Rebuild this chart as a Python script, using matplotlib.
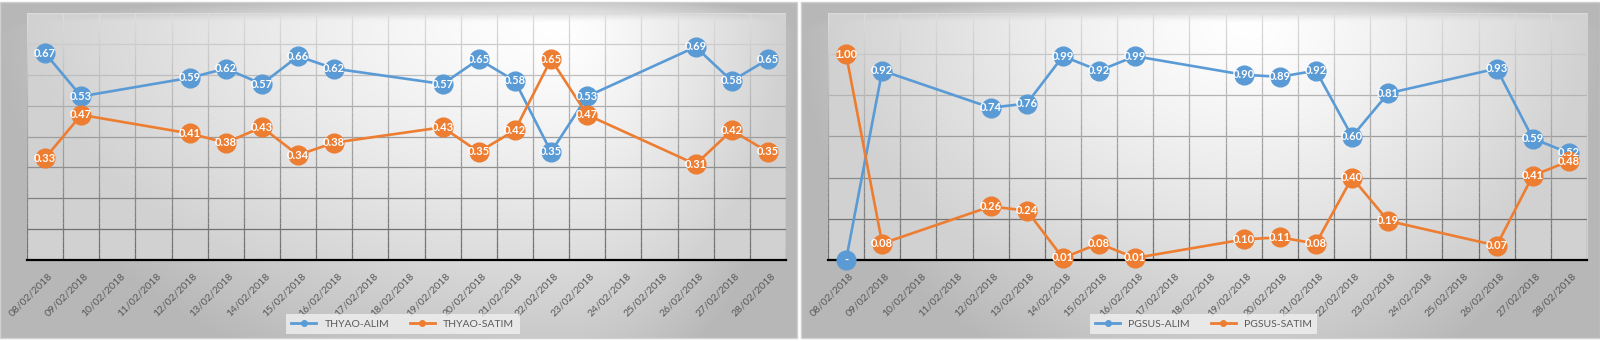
import numpy as np
import matplotlib.pyplot as plt
from matplotlib.collections import LineCollection
from matplotlib.lines import Line2D

plt.rcParams['font.family'] = ['Lato', 'DejaVu Sans']

# günler (hafta sonları boş)
dates = ['08/02/2018', '09/02/2018', '10/02/2018', '11/02/2018', '12/02/2018',
         '13/02/2018', '14/02/2018', '15/02/2018', '16/02/2018', '17/02/2018',
         '18/02/2018', '19/02/2018', '20/02/2018', '21/02/2018', '22/02/2018',
         '23/02/2018', '24/02/2018', '25/02/2018', '26/02/2018', '27/02/2018',
         '28/02/2018']
nan = np.nan

thyao_alim = [0.67, 0.53, nan, nan, 0.59, 0.62, 0.57, 0.66, 0.62, nan, nan,
              0.57, 0.65, 0.58, 0.35, 0.53, nan, nan, 0.69, 0.58, 0.65]
thyao_satim = [0.33, 0.47, nan, nan, 0.41, 0.38, 0.43, 0.34, 0.38, nan, nan,
               0.43, 0.35, 0.42, 0.65, 0.47, nan, nan, 0.31, 0.42, 0.35]
pgsus_alim = [0.00, 0.92, nan, nan, 0.74, 0.76, 0.99, 0.92, 0.99, nan, nan,
              0.90, 0.89, 0.92, 0.60, 0.81, nan, nan, 0.93, 0.59, 0.52]
pgsus_satim = [1.00, 0.08, nan, nan, 0.26, 0.24, 0.01, 0.08, 0.01, nan, nan,
               0.10, 0.11, 0.08, 0.40, 0.19, nan, nan, 0.07, 0.41, 0.48]

BLUE = '#5B9BD5'
ORANGE = '#ED7D31'
W, H = 1600, 341


def path_gradient(h, w, cx, cy, lo, power=1.3):
    # ortadan kenarlara doğru açıktan koyuya geçiş
    X, Y = np.meshgrid(np.arange(w) + 0.5, np.arange(h) + 0.5)
    tx = np.where(X < cx, (cx - X) / cx, (X - cx) / (w - cx))
    ty = np.where(Y < cy, (cy - Y) / max(cy, 1), (Y - cy) / (h - cy))
    t = np.clip(np.hypot(tx, ty * 0.8), 0, 1)
    g = 1 - (1 - lo) * t ** power
    return np.dstack([g, g, g])


fig = plt.figure(figsize=(W / 100, H / 100), dpi=100)
fig.patch.set_facecolor('white')

panels = [
    # (panel x0, x1, plot x0, x1, light centre x, series, ymax, step)
    (0, 797, 27, 786, 560, ('THYAO-ALIM', thyao_alim), ('THYAO-SATIM', thyao_satim), 0.8, 0.1),
    (801, 1600, 828, 1587, 1250, ('PGSUS-ALIM', pgsus_alim), ('PGSUS-SATIM', pgsus_satim), 1.2, 0.2),
]

x = np.arange(len(dates))

for px0, px1, ax0, ax1, lx, s1, s2, ymax, step in panels:
    # panel arka planı
    pw = px1 - px0
    bg = fig.add_axes([px0 / W, 3 / H, pw / W, 336 / H])
    bg.imshow(path_gradient(336, pw, lx - px0, 30, 0.72), aspect='auto', interpolation='bilinear')
    bg.set_axis_off()
    fig.add_artist(plt.Rectangle((px0 / W, 3 / H), pw / W, 336 / H, transform=fig.transFigure,
                                 fill=False, edgecolor='#d0d0d0', lw=1.0))

    ax = fig.add_axes([ax0 / W, (H - 260) / H, (ax1 - ax0) / W, 247 / H])
    aw = ax1 - ax0
    ax.imshow(path_gradient(247, aw, lx - ax0, 10, 0.82), aspect='auto',
              extent=(-0.5, len(dates) - 0.5, 0, ymax), zorder=0, interpolation='bilinear')
    ax.set_facecolor('none')

    # ızgara: aşağıda koyu, yukarıda açık
    for yv in np.arange(step, ymax + step / 2, step):
        f = yv / ymax
        g = 0.38 + 0.48 * f
        ax.axhline(yv, color=(g, g, g), lw=0.9, zorder=1)
    segs, cols = [], []
    ys = np.linspace(0, ymax, 41)
    for xv in np.arange(-0.5, len(dates), 1.0):
        for y0, y1 in zip(ys[:-1], ys[1:]):
            segs.append([(xv, y0), (xv, y1)])
            g = 0.42 + 0.45 * ((y0 + y1) / 2 / ymax)
            cols.append((g, g, g))
    ax.add_collection(LineCollection(segs, colors=cols, linewidths=0.9, zorder=1))

    for name, vals in (s1, s2):
        v = np.array(vals, dtype=float)
        m = ~np.isnan(v)
        color = BLUE if 'ALIM' in name else ORANGE
        ax.plot(x[m], v[m], color=color, lw=1.9, marker='o', ms=13.5,
                mec=color, zorder=3, clip_on=False)
    for name, vals in (s1, s2):
        for xi, vi in zip(x, vals):
            if np.isnan(vi):
                continue
            label = '-' if vi == 0 else f'{vi:.2f}'
            ax.text(xi, vi, label, ha='center', va='center', color='white',
                    fontsize=8, fontweight='bold', zorder=5, clip_on=False)

    ax.set_xlim(-0.5, len(dates) - 0.5)
    ax.set_ylim(0, ymax)
    ax.set_yticks([])
    ax.set_xticks(x + 0.08)
    ax.set_xticklabels(dates, rotation=45, ha='right', rotation_mode='anchor',
                       fontsize=7.5, color='#595959')
    ax.tick_params(axis='x', length=0, pad=8)
    for side in ('top', 'right', 'left'):
        ax.spines[side].set_visible(False)
    ax.spines['bottom'].set_color('black')
    ax.spines['bottom'].set_linewidth(1.6)
    ax.spines['bottom'].set_zorder(2)

    handles = [Line2D([], [], color=BLUE, lw=2, marker='o', ms=4),
               Line2D([], [], color=ORANGE, lw=2, marker='o', ms=4)]
    leg = ax.legend(handles, [s1[0], s2[0]], loc='center', bbox_to_anchor=(0.495, -0.26),
                    ncol=2, fontsize=7.5, frameon=True, facecolor='#f0f0f0',
                    edgecolor='none', fancybox=False, handlelength=2.4,
                    columnspacing=2.0, borderpad=0.5, labelcolor='#595959')
    leg.get_frame().set_alpha(0.8)

fig.savefig('out.png', dpi=100, facecolor=fig.get_facecolor())
